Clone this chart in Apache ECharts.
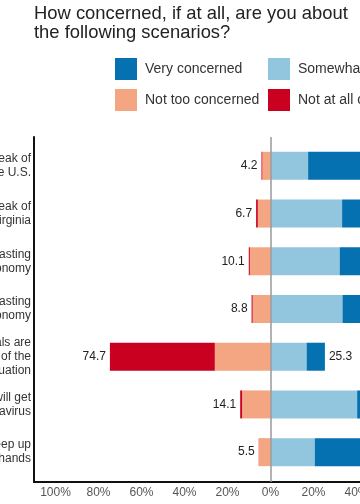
<!DOCTYPE html>
<html>
<head>
<meta charset="utf-8">
<script src="https://cdn.jsdelivr.net/npm/echarts@6/dist/echarts.min.js"></script>
<style>
html, body { margin: 0; padding: 0; overflow: hidden; background: #fff; width: 360px; height: 504px; }
#chart { width: 560px; height: 504px; }
</style>
</head>
<body>
<div id="chart"></div>
<script>
// ---- data ----
const categories = [
  "An outbreak of\ncoronavirus in the U.S.",
  "An outbreak of\ncoronavirus in Virginia",
  "Coronavirus having a lasting\nimpact on the U.S. economy",
  "Coronavirus having a lasting\nimpact on Virginia's economy",
  "Public officials are\noverstating the seriousness of the\nsituation",
  "You or someone you know will get\ncoronavirus",
  "Being able to keep up\nwashing hands"
];
const veryConcerned     = [78.3, 60.0, 57.7, 57.7, 8.5, 45.6, 73.9];
const somewhatConcerned = [17.5, 33.3, 32.2, 33.5, 16.8, 40.3, 20.6];
const notTooConcerned   = [3.8, 5.9, 9.6, 8.3, 25.9, 13.2, 5.4];
const notAtAllConcerned = [0.4, 0.8, 0.5, 0.5, 48.8, 0.9, 0.1];
const negativeTotals    = [4.2, 6.7, 10.1, 8.8, 74.7, 14.1, 5.5];
const positiveTotals    = [95.8, 93.3, 89.9, 91.2, 25.3, 85.9, 94.5];
const seriesNames = ["Very concerned", "Somewhat concerned", "Not too concerned", "Not at all concerned"];
const seriesColors = ["#0571b0", "#92c5de", "#f4a582", "#ca0020"];
const tickValues = [-100, -80, -60, -40, -20, 0, 20, 40, 60, 80, 100];

const FONT = "'Liberation Sans', Arial, Helvetica, sans-serif";
const chart = echarts.init(document.getElementById('chart'));

const neg = a => a.map(v => -v);

function legendAt(name, left, top) {
  return {
    data: [name], left: left, top: top, padding: 0, orient: 'horizontal',
    itemWidth: 22, itemHeight: 22, icon: 'rect', selectedMode: false,
    itemStyle: { borderWidth: 0 },
    textStyle: { fontFamily: FONT, fontSize: 14, color: '#333', padding: [0, 0, 0, 3] }
  };
}

const option = {
  animation: false,
  backgroundColor: '#fff',
  title: {
    text: 'How concerned, if at all, are you about\nthe following scenarios?',
    left: 34, top: 5, padding: 0,
    textStyle: { fontFamily: FONT, fontSize: 18.4, lineHeight: 18.5, fontWeight: 'normal', color: '#222' }
  },
  legend: [
    legendAt(seriesNames[0], 115, 58),
    legendAt(seriesNames[1], 268, 58),
    legendAt(seriesNames[2], 115, 89),
    legendAt(seriesNames[3], 268, 89)
  ],
  grid: [
    { left: 34, width: 473, top: 142, height: 334, outerBoundsMode: 'none', containLabel: false },
    { left: 34, width: 473, top: 137, height: 345, outerBoundsMode: 'none', containLabel: false }
  ],
  xAxis: [
    { gridIndex: 0, type: 'value', min: -110, max: 110, show: false },
    {
      gridIndex: 1, type: 'value', min: -110, max: 110, interval: 10,
      axisLine: { show: true, onZero: false, lineStyle: { color: '#111', width: 2 } },
      axisTick: { show: false },
      splitLine: { show: false },
      axisLabel: {
        fontFamily: FONT, fontSize: 12, color: '#555', margin: 5,
        showMinLabel: true, showMaxLabel: true,
        formatter: v => tickValues.indexOf(v) >= 0 ? Math.abs(v) + '%' : ''
      }
    }
  ],
  yAxis: [
    {
      gridIndex: 0, type: 'category', data: categories, inverse: true,
      axisLine: { show: false }, axisTick: { show: false },
      axisLabel: { fontFamily: FONT, fontSize: 12, lineHeight: 14, color: '#333', margin: 3 }
    },
    {
      gridIndex: 1, type: 'value', min: 0, max: 1,
      axisLine: { show: true, onZero: false, lineStyle: { color: '#111', width: 2 } },
      axisTick: { show: false }, axisLabel: { show: false }, splitLine: { show: false }
    }
  ],
  series: [
    { name: seriesNames[1], type: 'bar', stack: 'all', data: somewhatConcerned, barWidth: 28, barGap: '-100%',
      itemStyle: { color: seriesColors[1] } },
    { name: seriesNames[0], type: 'bar', stack: 'all', data: veryConcerned, barWidth: 28,
      itemStyle: { color: seriesColors[0] } },
    { name: seriesNames[2], type: 'bar', stack: 'all', data: neg(notTooConcerned), barWidth: 28,
      itemStyle: { color: seriesColors[2] } },
    { name: seriesNames[3], type: 'bar', stack: 'all', data: neg(notAtAllConcerned), barWidth: 28,
      itemStyle: { color: seriesColors[3] } },
    { name: 'negTotal', type: 'bar', stack: 'tot', data: neg(negativeTotals), barWidth: 28, barGap: '-100%',
      itemStyle: { color: 'rgba(0,0,0,0)' }, silent: true,
      label: { show: true, position: 'left', distance: 4, fontFamily: FONT, fontSize: 12, color: '#222',
        formatter: p => negativeTotals[p.dataIndex].toFixed(1) } },
    { name: 'posTotal', type: 'bar', stack: 'tot', data: positiveTotals, barWidth: 28,
      itemStyle: { color: 'rgba(0,0,0,0)' }, silent: true,
      label: { show: true, position: 'right', distance: 4, fontFamily: FONT, fontSize: 12, color: '#222',
        formatter: p => positiveTotals[p.dataIndex].toFixed(1) } },
    { name: 'zero', type: 'line', xAxisIndex: 1, yAxisIndex: 1, data: [[0, 0]], showSymbol: false, symbol: 'none',
      lineStyle: { width: 0 }, silent: true, z: 10,
      markLine: { silent: true, symbol: ['none', 'none'], label: { show: false },
        lineStyle: { color: '#999', width: 1.5, type: 'solid' }, data: [{ xAxis: 0 }] } }
  ]
};
chart.setOption(option);
</script>
</body>
</html>
